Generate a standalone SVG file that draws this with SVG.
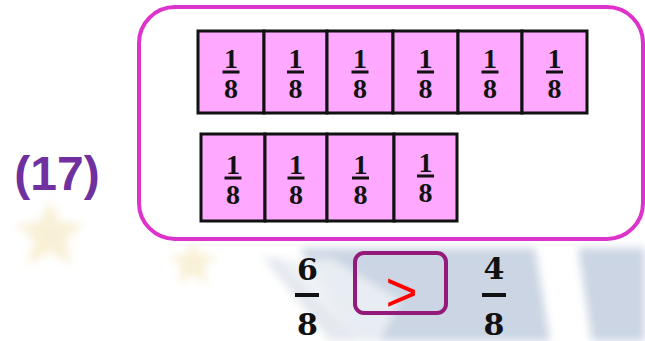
<svg xmlns="http://www.w3.org/2000/svg" width="645" height="341" viewBox="0 0 645 341">
<style>
.cell{fill:#ffa8ff;stroke:#111;stroke-width:3}
.num{font-family:"Liberation Serif","Times New Roman",serif;font-weight:bold;font-size:28px;text-anchor:middle;fill:#111}
.bar{stroke:#111;stroke-width:3}
.big{font-family:"DejaVu Serif",serif;font-weight:bold;font-size:30px;text-anchor:middle;fill:#111}
.bigbar{stroke:#111;stroke-width:4}
</style>
<defs>
<filter id="blur" x="-30%" y="-30%" width="160%" height="160%"><feGaussianBlur stdDeviation="4"/></filter>
<filter id="blur2" x="-20%" y="-20%" width="140%" height="140%"><feGaussianBlur stdDeviation="4"/></filter>
<g id="frac">
<text class="num" x="0" y="-4">1</text>
<line class="bar" x1="-8.5" y1="0" x2="8.5" y2="0"/>
<text class="num" x="0" y="26">8</text>
</g>
</defs>
<rect width="645" height="341" fill="#fff"/>
<g id="background" filter="url(#blur2)">
<polygon points="300,248 535,248 550,341 350,341" fill="#cbd5e3"/>
<polygon points="262,256 300,262 360,341 330,341" fill="#e4e8ef"/>
<polygon points="578,248 645,248 645,341 592,341" fill="#cbd5e3"/>
<polygon points="280,262 330,258 400,300 380,341 360,341" fill="#f4f6f9" opacity="0.7"/>
</g>
<g id="stars" filter="url(#blur)" fill="#f3e4b6" opacity="0.55">
<polygon points="50,200 60,222 84,224 66,240 72,265 50,252 28,265 34,240 16,224 40,222"/>
<polygon points="193,240 200,255 217,256 204,267 208,284 193,275 178,284 182,267 169,256 186,255"/>
</g>
<g id="label">
<text x="57" y="190" font-family="Liberation Sans, Arial, sans-serif" font-weight="bold" font-size="48" fill="#7030a0" text-anchor="middle">(17)</text>
</g>
<g id="panel">
<rect x="139" y="7" width="504" height="232" rx="36" fill="none" stroke="#dd33cc" stroke-width="4"/>
</g>
<g id="row1">
<rect class="cell" x="198" y="31" width="66" height="82"/>
<rect class="cell" x="264" y="31" width="63" height="82"/>
<rect class="cell" x="327" y="31" width="66" height="82"/>
<rect class="cell" x="393" y="31" width="65" height="82"/>
<rect class="cell" x="458" y="31" width="64" height="82"/>
<rect class="cell" x="522" y="31" width="65" height="82"/>
<use href="#frac" x="231" y="72"/>
<use href="#frac" x="295.5" y="72"/>
<use href="#frac" x="360" y="72"/>
<use href="#frac" x="425.5" y="72"/>
<use href="#frac" x="490" y="72"/>
<use href="#frac" x="554.5" y="72"/>
</g>
<g id="row2">
<rect class="cell" x="201" y="134" width="64" height="87"/>
<rect class="cell" x="265" y="134" width="62" height="87"/>
<rect class="cell" x="327" y="134" width="67" height="87"/>
<rect class="cell" x="394" y="134" width="63" height="87"/>
<use href="#frac" x="233" y="178"/>
<use href="#frac" x="296" y="178"/>
<use href="#frac" x="360.5" y="178"/>
<use href="#frac" x="425.5" y="176"/>
</g>
<g id="left-fraction">
<text class="big" x="307.5" y="280">6</text>
<line class="bigbar" x1="295" y1="295" x2="319" y2="295"/>
<text class="big" x="307.5" y="335">8</text>
</g>
<g id="compare-box">
<rect x="355" y="253" width="91" height="60" rx="9" fill="none" stroke="#931a7a" stroke-width="4"/>
<text x="401.5" y="311" font-family="Liberation Sans, Arial, sans-serif" font-size="55" fill="#ff0000" text-anchor="middle">&gt;</text>
</g>
<g id="right-fraction">
<text class="big" x="494" y="279">4</text>
<line class="bigbar" x1="482" y1="295" x2="506" y2="295"/>
<text class="big" x="494" y="335">8</text>
</g>
</svg>
